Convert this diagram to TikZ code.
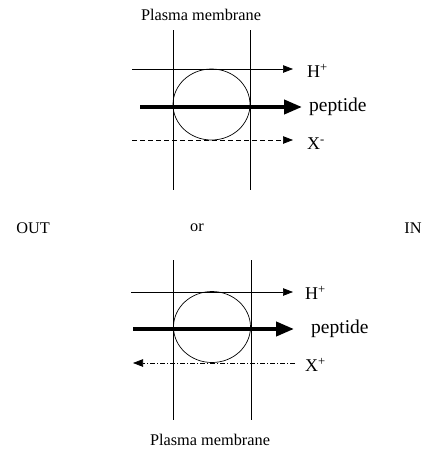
\documentclass[tikz,border=0pt]{standalone}
\usepackage{fontspec}
\setmainfont{Liberation Serif}
\usetikzlibrary{arrows.meta}
\begin{document}
\begin{tikzpicture}[x=1pt,y=-1pt,
    lbl/.style={inner sep=0pt,font=\fontsize{16.3}{19}\selectfont},
    ionlbl/.style={inner sep=0pt,anchor=west,font=\fontsize{18}{21}\selectfont},
    biglbl/.style={inner sep=0pt,anchor=west,font=\fontsize{19.5}{22}\selectfont},
    thinarr/.style={-{Triangle[length=10pt,width=7.5pt]},line width=0.7pt},
    fatarr/.style={-{Triangle[length=18pt,width=14pt]},line width=4pt}]
    \useasboundingbox (0,0) rectangle (427,450);
    % top panel
    \node[lbl] (pmtop) at (201,15) {Plasma membrane};
    \draw[line width=0.7pt] (173,30) -- (173,190);
    \draw[line width=0.7pt] (250,30) -- (250,190);
    \draw[line width=0.7pt] (211.5,104.5) ellipse [x radius=38.5, y radius=35.5];
    \coordinate (hsA) at (132,69);  \coordinate (heA) at (293,69);
    \coordinate (psA) at (140,107); \coordinate (peA) at (302,107);
    \coordinate (xsA) at (132,140); \coordinate (xeA) at (293,140);
    \draw[thinarr] (hsA) -- (heA);
    \draw[fatarr] (psA) -- (peA);
    \draw[thinarr,dash pattern=on 5pt off 3pt] (xsA) -- (xeA);
    \node[ionlbl] (hlblA) at (307,71) {H\textsuperscript{+}};
    \node[biglbl] (plblA) at (309,107) {peptide};
    \node[ionlbl] (xlblA) at (307,144) {X\textsuperscript{-}};
    % middle
    \node[lbl] (out) at (33,228) {OUT};
    \node[lbl] (or) at (197,228) {or};
    \node[lbl] (in) at (413,228) {IN};
    % bottom panel
    \draw[line width=0.7pt] (173,260) -- (173,420);
    \draw[line width=0.7pt] (251,260) -- (251,420);
    \draw[line width=0.7pt] (212,327) ellipse [x radius=38.5, y radius=35.5];
    \coordinate (hsB) at (131,292); \coordinate (heB) at (293,292);
    \coordinate (psB) at (133,329); \coordinate (peB) at (294,329);
    \coordinate (xsB) at (295,363); \coordinate (xeB) at (133,363);
    \draw[thinarr] (hsB) -- (heB);
    \draw[fatarr] (psB) -- (peB);
    \draw[thinarr,dash pattern=on 5pt off 2pt on 1pt off 2pt] (xsB) -- (xeB);
    \node[ionlbl] (hlblB) at (305,293) {H\textsuperscript{+}};
    \node[biglbl] (plblB) at (311,329) {peptide};
    \node[ionlbl] (xlblB) at (305,365) {X\textsuperscript{+}};
    \node[lbl] (pmbot) at (210,440) {Plasma membrane};
\end{tikzpicture}
\end{document}
